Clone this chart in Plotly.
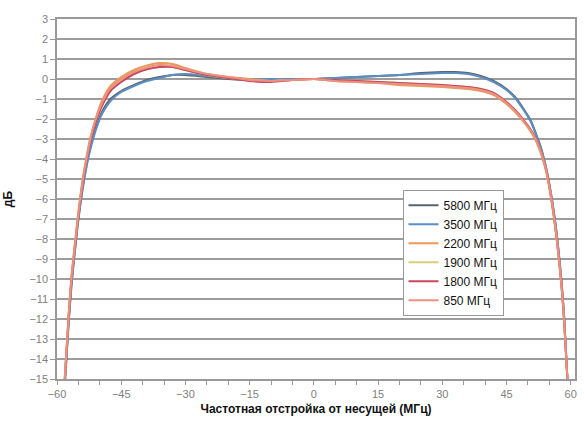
import plotly.graph_objects as go

freq_offset = [-58.2, -57.3, -56.6, -55.2, -54, -53.2, -52.3, -51, -49.5, -47.5, -45, -42, -39, -36, -33, -30, -25, -20, -15, -10,
               -5, 0, 5, 10, 15, 20, 25, 30, 33, 36, 39, 42, 45, 47, 49, 50.7, 52, 53, 54, 54.8, 56.3, 57.8, 58.5, 59.3]

series_names = ["5800 МГц", "3500 МГц", "2200 МГц", "1900 МГц", "1800 МГц", "850 МГц"]

db_5800 = [-15.3, -12.2, -10.2, -7.3, -5.4, -4.4, -3.5, -2.5, -1.65, -1.0, -0.6, -0.3, -0.05, 0.1, 0.2, 0.2, 0.1, 0.0, -0.05, 0.0,
           0.0, 0.0, 0.05, 0.1, 0.15, 0.2, 0.3, 0.35, 0.35, 0.3, 0.15, -0.1, -0.5, -0.9, -1.5, -2.1, -2.8, -3.4, -4.2, -5.0, -7.0, -10.0, -12.0, -15.3]
db_3500 = [-15.4, -12.3, -10.3, -7.4, -5.5, -4.5, -3.6, -2.6, -1.75, -1.1, -0.65, -0.35, -0.1, 0.05, 0.2, 0.25, 0.15, 0.05, 0.0, 0.0,
           0.0, 0.0, 0.05, 0.1, 0.15, 0.2, 0.25, 0.3, 0.3, 0.25, 0.1, -0.15, -0.55, -0.95, -1.55, -2.15, -2.85, -3.45, -4.25, -5.05, -7.05, -10.05, -12.05, -15.3]
db_2200 = [-15.0, -11.8, -9.8, -7.0, -5.0, -4.0, -3.0, -2.0, -1.1, -0.35, 0.1, 0.45, 0.68, 0.8, 0.75, 0.55, 0.25, 0.1, 0.0, -0.1,
           -0.05, 0.0, -0.1, -0.15, -0.2, -0.3, -0.35, -0.4, -0.45, -0.5, -0.6, -0.8, -1.25, -1.65, -2.15, -2.65, -3.15, -3.7, -4.4, -5.2, -7.3, -10.3, -12.3, -15.3]
db_1900 = [-15.0, -11.9, -9.9, -7.1, -5.1, -4.1, -3.1, -2.1, -1.25, -0.5, -0.05, 0.3, 0.5, 0.6, 0.6, 0.45, 0.2, 0.05, -0.05, -0.1,
           -0.05, 0.0, -0.05, -0.1, -0.15, -0.2, -0.25, -0.3, -0.35, -0.4, -0.5, -0.7, -1.15, -1.55, -2.05, -2.55, -3.05, -3.6, -4.3, -5.1, -7.2, -10.2, -12.2, -15.3]
db_1800 = [-15.1, -12.0, -10.0, -7.2, -5.2, -4.2, -3.2, -2.2, -1.35, -0.6, -0.15, 0.25, 0.48, 0.6, 0.6, 0.45, 0.2, 0.05, -0.1, -0.15,
           -0.05, 0.0, -0.05, -0.1, -0.15, -0.2, -0.25, -0.3, -0.35, -0.4, -0.5, -0.7, -1.15, -1.55, -2.05, -2.55, -3.05, -3.6, -4.3, -5.1, -7.2, -10.2, -12.2, -15.3]
db_850 = [-15.0, -11.9, -9.9, -7.1, -5.1, -4.1, -3.1, -2.05, -1.2, -0.45, 0.0, 0.35, 0.58, 0.7, 0.65, 0.5, 0.25, 0.1, -0.05, -0.1,
          -0.05, 0.0, -0.1, -0.15, -0.2, -0.25, -0.3, -0.35, -0.4, -0.45, -0.55, -0.75, -1.2, -1.6, -2.1, -2.6, -3.1, -3.65, -4.35, -5.15, -7.25, -10.25, -12.25, -15.3]

series_values = [db_5800, db_3500, db_2200, db_1900, db_1800, db_850]
colors = ["#5b636c", "#5a8fc4", "#e89a58", "#d8cf78", "#c9465e", "#ec9080"]

y_ticks = list(range(-15, 4))
x_ticks = list(range(-60, 61, 15))

fig = go.Figure()
for name, vals, col in zip(series_names, series_values, colors):
    fig.add_trace(go.Scatter(x=freq_offset, y=vals, mode="lines", name=name,
                             line=dict(color=col, width=2, shape="spline", smoothing=0.6)))

narrow = "Liberation Sans Narrow, Arial Narrow, Liberation Sans, sans-serif"

fig.update_layout(
    width=584, height=425,
    margin=dict(l=57, r=7, t=19, b=46),
    paper_bgcolor="white", plot_bgcolor="white",
    font=dict(family=narrow, size=11, color="#808080"),
    showlegend=True,
    legend=dict(x=0.667, y=0.526, xanchor="left", yanchor="top",
                bgcolor="white", bordercolor="#999999", borderwidth=1,
                font=dict(family=narrow, size=12, color="#111111"),
                itemwidth=30, tracegroupgap=0),
    xaxis=dict(range=[-60, 61], tickvals=x_ticks, ticks="outside", ticklen=4, tickcolor="#999999",
               minor=dict(dtick=5, ticks="outside", ticklen=4, tickcolor="#999999"),
               showgrid=False, zeroline=False, showline=True, linecolor="#999999", linewidth=1.5, mirror=True,
               title=dict(text="<b>Частотная отстройка от несущей (МГц)</b>", standoff=6,
                          font=dict(family=narrow, size=12, color="#111111"))),
    yaxis=dict(range=[-15, 3], tickvals=y_ticks, ticks="outside", ticklen=5, tickcolor="#999999",
               showgrid=True, gridcolor="#9c9c9c", gridwidth=1.8, zeroline=False,
               showline=True, linecolor="#999999", linewidth=1.5, mirror=True,
               title=dict(text="<b>дБ</b>", standoff=14,
                          font=dict(family=narrow, size=12, color="#111111"))),
)

fig.write_html("out.html")
